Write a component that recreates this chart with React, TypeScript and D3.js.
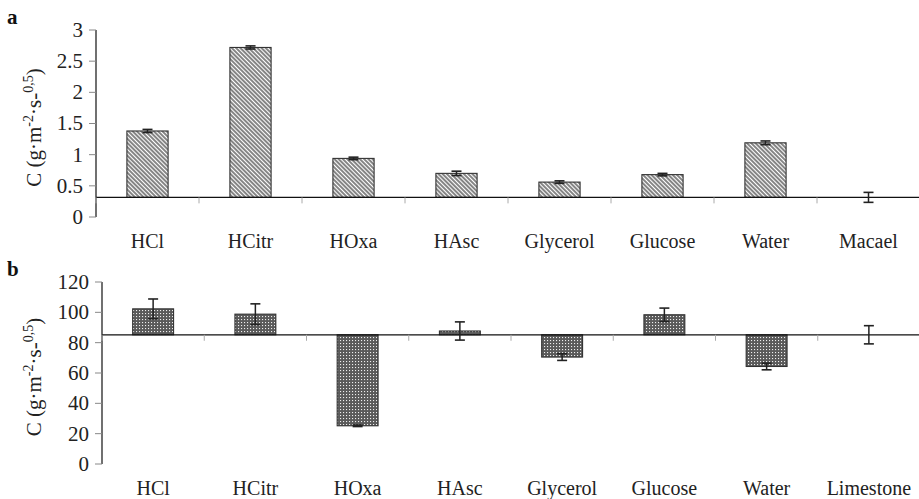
import React, { useEffect, useRef } from 'react';
import * as d3 from 'd3';

// panel a
const catsA = ['HCl', 'HCitr', 'HOxa', 'HAsc', 'Glycerol', 'Glucose', 'Water', 'Macael'];
const valsA = [1.38, 2.72, 0.94, 0.7, 0.56, 0.68, 1.19, 0.315];
const errsA = [0.025, 0.025, 0.02, 0.035, 0.02, 0.02, 0.03, 0.08];
const baseA = 0.315;
const ticksA = [0, 0.5, 1, 1.5, 2, 2.5, 3];

// panel b
const catsB = ['HCl', 'HCitr', 'HOxa', 'HAsc', 'Glycerol', 'Glucose', 'Water', 'Limestone'];
const valsB = [102.3, 98.8, 25.2, 87.7, 70.5, 98.4, 64.3, 85.2];
const errsB = [6.5, 6.8, 0.5, 6, 2.2, 4.4, 2.2, 6];
const baseB = 85.2;
const ticksB = [0, 20, 40, 60, 80, 100, 120];

const FONT = '"Liberation Serif", "Times New Roman", serif';

const App = () => {
  const svgRef = useRef<SVGSVGElement>(null);

  useEffect(() => {
    const svg = d3.select(svgRef.current);
    svg.selectAll('*').remove();

    const defs = svg.append('defs');
    const hatch = defs.append('pattern')
      .attr('id', 'hatch')
      .attr('patternUnits', 'userSpaceOnUse')
      .attr('width', 3)
      .attr('height', 3)
      .attr('patternTransform', 'rotate(-45)');
    hatch.append('rect').attr('width', 3).attr('height', 3).attr('fill', 'white');
    hatch.append('line')
      .attr('x1', 1).attr('y1', 0).attr('x2', 1).attr('y2', 3)
      .attr('stroke', '#444').attr('stroke-width', 1.3);

    const dots = defs.append('pattern')
      .attr('id', 'dots')
      .attr('patternUnits', 'userSpaceOnUse')
      .attr('width', 3)
      .attr('height', 3);
    dots.append('rect').attr('width', 3).attr('height', 3).attr('fill', '#5a5a5a');
    dots.append('rect').attr('x', 1).attr('y', 1).attr('width', 1.1).attr('height', 1.1).attr('fill', '#eee');

    const drawPanel = (opts) => {
      const { cats, vals, errs, base, ticks, left, top, bottom, max, fill, letter, labelY, fmt } = opts;
      const right = 920;
      const g = svg.append('g');

      const x = d3.scaleBand().domain(cats).range([left, right]).paddingInner(0.6).paddingOuter(0.3);
      const y = d3.scaleLinear().domain([0, max]).range([bottom, top]);
      const step = x.step();

      // y axis
      g.append('line')
        .attr('x1', left).attr('x2', left)
        .attr('y1', y(max)).attr('y2', y(0))
        .attr('stroke', '#111').attr('stroke-width', 1.2);

      ticks.forEach(t => {
        g.append('line')
          .attr('x1', left - 7).attr('x2', left)
          .attr('y1', y(t)).attr('y2', y(t))
          .attr('stroke', '#888').attr('stroke-width', 1);
        g.append('text')
          .attr('x', left - 13)
          .attr('y', y(t))
          .attr('dy', '0.33em')
          .attr('text-anchor', 'end')
          .attr('font-family', FONT)
          .attr('font-size', 21)
          .attr('fill', '#222')
          .text(fmt(t));
      });

      // bars
      cats.forEach((c, i) => {
        const v = vals[i];
        if (Math.abs(v - base) > 0.001 * max) {
          g.append('rect')
            .attr('x', x(c))
            .attr('y', Math.min(y(v), y(base)))
            .attr('width', x.bandwidth())
            .attr('height', Math.abs(y(v) - y(base)))
            .attr('fill', fill)
            .attr('stroke', '#333')
            .attr('stroke-width', 1.1);
        }
      });

      // baseline (category axis)
      g.append('line')
        .attr('x1', left).attr('x2', 919)
        .attr('y1', y(base)).attr('y2', y(base))
        .attr('stroke', '#111').attr('stroke-width', 1.3);

      cats.forEach((c, i) => {
        g.append('line')
          .attr('x1', left + i * step).attr('x2', left + i * step)
          .attr('y1', y(base)).attr('y2', y(base) + 6)
          .attr('stroke', '#aaa').attr('stroke-width', 1);
      });

      // error bars
      cats.forEach((c, i) => {
        const cx = x(c) + x.bandwidth() / 2;
        const hi = y(vals[i] + errs[i]);
        const lo = y(vals[i] - errs[i]);
        g.append('line')
          .attr('x1', cx).attr('x2', cx).attr('y1', hi).attr('y2', lo)
          .attr('stroke', '#222').attr('stroke-width', 1.5);
        [hi, lo].forEach(yy => {
          g.append('line')
            .attr('x1', cx - 5).attr('x2', cx + 5).attr('y1', yy).attr('y2', yy)
            .attr('stroke', '#222').attr('stroke-width', 1.6);
        });
      });

      // category labels
      cats.forEach(c => {
        g.append('text')
          .attr('x', x(c) + x.bandwidth() / 2)
          .attr('y', labelY)
          .attr('text-anchor', 'middle')
          .attr('font-family', FONT)
          .attr('font-size', 20)
          .attr('fill', '#222')
          .text(c);
      });

      // y label
      const yl = g.append('text')
        .attr('transform', `translate(41,${(top + bottom) / 2 + 4}) rotate(-90)`)
        .attr('text-anchor', 'middle')
        .attr('font-family', FONT)
        .attr('font-size', 21)
        .attr('fill', '#222');
      yl.append('tspan').text('C (g·m');
      yl.append('tspan').attr('dy', -8).attr('font-size', 14).text('-2');
      yl.append('tspan').attr('dy', 8).text('·s-');
      yl.append('tspan').attr('dy', -8).attr('font-size', 14).text('0,5');
      yl.append('tspan').attr('dy', 8).text(')');

      // panel letter
      g.append('text')
        .attr('x', 7)
        .attr('y', top - 6)
        .attr('font-family', FONT)
        .attr('font-weight', 'bold')
        .attr('font-size', 21)
        .attr('fill', '#111')
        .text(letter);
    };

    drawPanel({
      cats: catsA, vals: valsA, errs: errsA, base: baseA, ticks: ticksA,
      left: 96, top: 30, bottom: 217, max: 3, fill: 'url(#hatch)', letter: 'a', labelY: 248,
      fmt: d => String(d),
    });
    drawPanel({
      cats: catsB, vals: valsB, errs: errsB, base: baseB, ticks: ticksB,
      left: 102, top: 282, bottom: 464, max: 120, fill: 'url(#dots)', letter: 'b', labelY: 495,
      fmt: d => String(d),
    });
  }, []);

  return (
    <svg
      ref={svgRef}
      width={919}
      height={499}
      style={{ position: 'absolute', left: 0, top: 0, background: 'white' }}
    />
  );
};

export default App;
